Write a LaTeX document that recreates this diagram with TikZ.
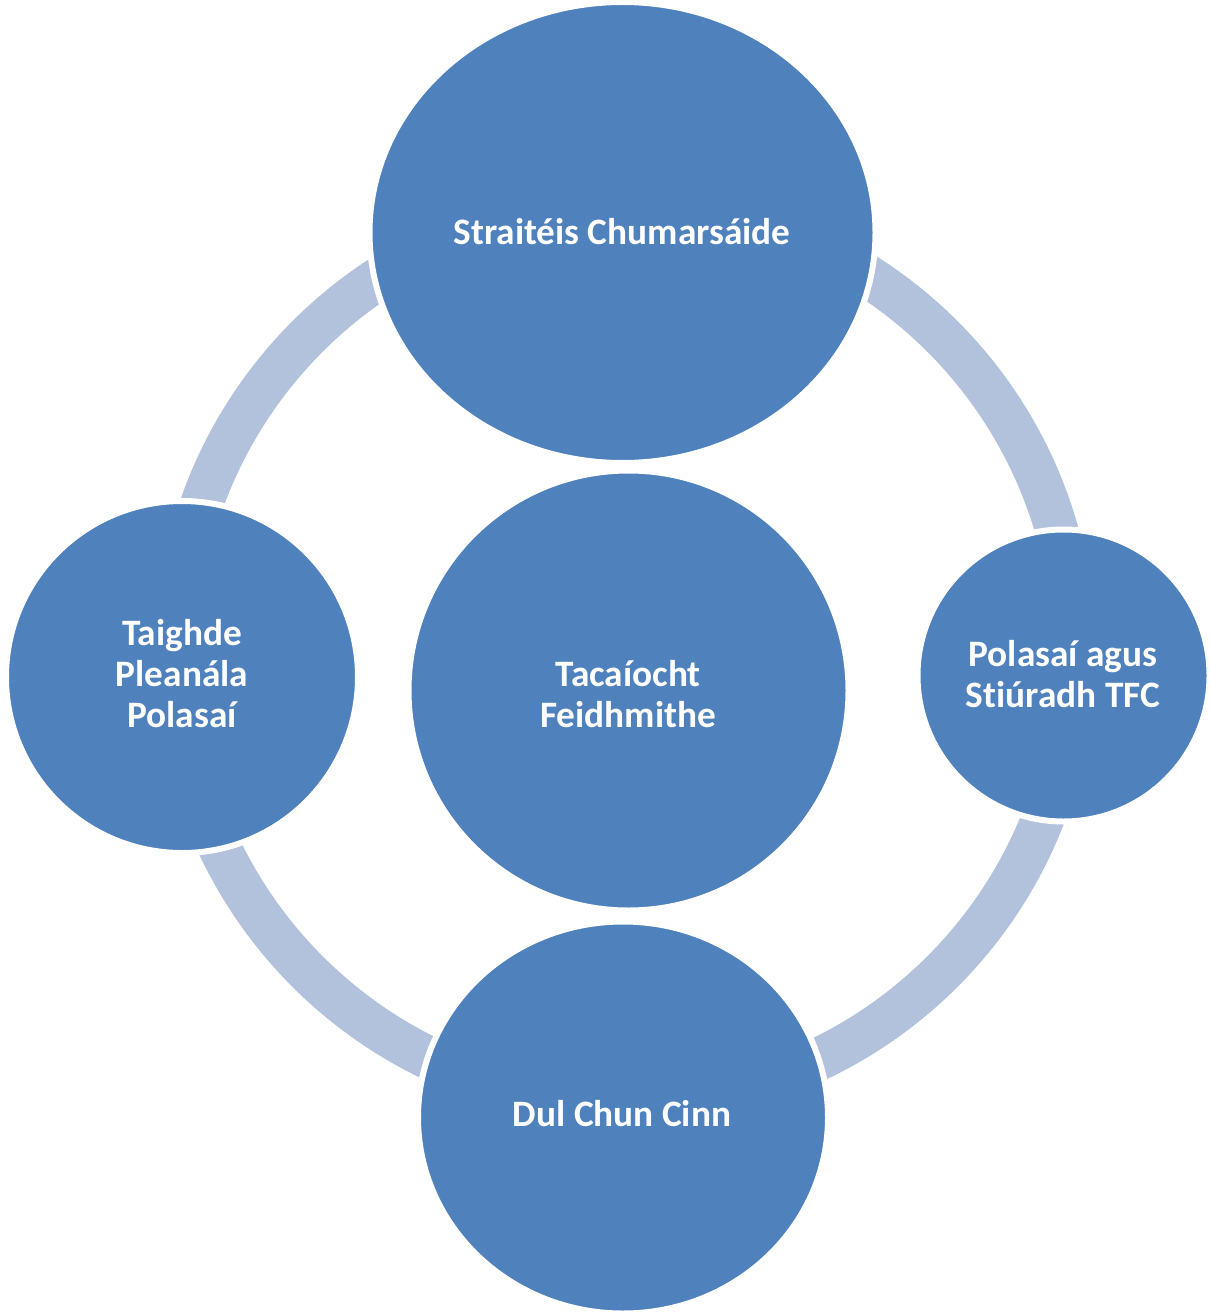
\documentclass[tikz,border=0pt]{standalone}
\usepackage{fontspec}
\setmainfont[Ligatures=NoCommon]{Carlito}
\usetikzlibrary{shapes.geometric}
\definecolor{nodeblue}{HTML}{4F81BD}
\definecolor{ringblue}{HTML}{B2C1DC}
\tikzset{
  bubble/.style={ellipse, fill=nodeblue, draw=white, line width=6pt, inner sep=0pt},
  ring/.style={draw=ringblue, line width=43pt},
  lbl/.style={text=white, font=\bfseries\fontsize{37.3}{41}\selectfont, align=center, inner sep=0pt}
}
\begin{document}
\begin{tikzpicture}[x=1pt,y=-1pt]
\useasboundingbox[fill=white] (0,0) rectangle (1210,1313);
\coordinate (ringc) at (625,654);
\draw[ring] (ringc) circle[radius=449];
\node[bubble, minimum width=506pt, minimum height=461pt] (top) at (622.5,232.5) {};
\node[bubble, minimum width=440pt, minimum height=440pt] (mid) at (628.5,690.5) {};
\node[bubble, minimum width=352pt, minimum height=352pt] (left) at (182,677) {};
\node[bubble, minimum width=292pt, minimum height=292pt] (right) at (1063.5,675.5) {};
\node[bubble, minimum width=410pt, minimum height=392pt] (bottom) at (623,1117.5) {};
\node[lbl] (toptxt) at (622,232) {Straitéis Chumarsáide};
\node[lbl] (midtxt) at (628,694) {Tacaíocht\\Feidhmithe};
\node[lbl] (lefttxt) at (182,674) {Taighde\\Pleanála\\Polasaí};
\node[lbl] (righttxt) at (1063,674) {Polasaí agus\\Stiúradh TFC};
\node[lbl] (bottomtxt) at (622,1114) {Dul Chun Cinn};
\end{tikzpicture}
\end{document}
